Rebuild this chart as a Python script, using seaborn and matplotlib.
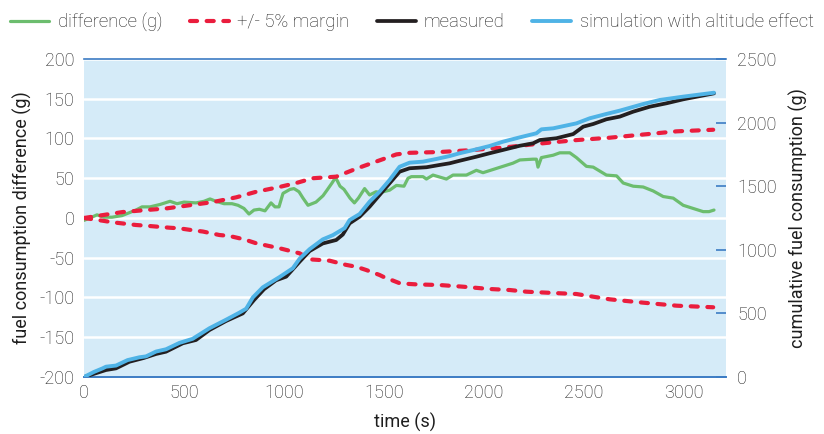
import matplotlib
matplotlib.use("Agg")
import matplotlib.pyplot as plt
import seaborn as sns
import pandas as pd

# ---------------- data ----------------
diff_t = [0, 30, 65, 100, 140, 190, 230, 260, 290, 330,
          380, 430, 465, 500, 560, 600, 630, 660, 700, 740,
          770, 800, 825, 850, 877, 905, 935, 955, 975, 995,
          1030, 1050, 1075, 1095, 1120, 1160, 1195, 1215, 1240, 1258,
          1280, 1300, 1330, 1352, 1372, 1403, 1428, 1460, 1480, 1528,
          1562, 1600, 1620, 1637, 1695, 1712, 1745, 1812, 1845, 1912,
          1962, 1995, 2045, 2095, 2145, 2179, 2245, 2262, 2270, 2287,
          2346, 2379, 2429, 2462, 2512, 2546, 2612, 2663, 2696, 2746,
          2796, 2846, 2896, 2946, 2996, 3046, 3096, 3125, 3150]
diff_g = [-3, 0, 4, 1, 1, 3, 7, 10, 14, 14,
          17, 21, 18, 20, 19, 21, 24, 21, 18, 18,
          16, 12, 5, 10, 11, 9, 19, 14, 14, 31,
          36, 37, 33, 25, 16, 20, 28, 35, 44, 51,
          40, 36, 25, 19, 25, 37, 29, 33, 32, 35,
          41, 40, 50, 52, 52, 49, 54, 49, 54, 54,
          60, 57, 61, 65, 69, 73, 74, 74, 64, 76,
          79, 82, 82, 76, 65, 64, 54, 53, 44, 40,
          39, 34, 27, 25, 16, 12, 8, 8, 10]

upper_t = [0, 77, 193, 310, 410, 527, 644, 761, 861, 977,
           1061, 1144, 1261, 1361, 1461, 1562, 1628, 1778, 1945, 2112,
           2295, 2462, 2629, 2796, 2963, 3146]
upper_g = [0, 3, 7.5, 10, 12, 16, 20, 26, 33, 39,
           44, 50, 52, 62, 71, 80, 82, 83, 85.5, 89,
           94, 98, 101, 105, 109, 111]

lower_t = [0, 93, 143, 260, 310, 427, 477, 560, 594, 677,
           727, 777, 811, 861, 977, 1078, 1128, 1178, 1228, 1311,
           1361, 1411, 1478, 1495, 1578, 1628, 1662, 1778, 1895, 2028,
           2129, 2212, 2379, 2462, 2546, 2629, 2796, 2963, 3146]
lower_g = [0, -3.4, -5.4, -8.8, -9.7, -12.2, -13, -16, -17, -21.4,
           -22.6, -25.5, -27.7, -31.8, -38, -44.4, -52, -52.8, -53.7, -59,
           -61.3, -65.4, -71.7, -73.8, -82, -83, -83.5, -84.3, -86.4, -89.3,
           -90.6, -92.7, -94.7, -95.6, -99, -102.3, -106.5, -110.3, -112.3]

meas_t = [0, 50, 110, 160, 227, 300, 360, 410, 494, 560,
          627, 710, 794, 850, 900, 960, 1011, 1078, 1128, 1194,
          1261, 1294, 1328, 1378, 1428, 1478, 1528, 1578, 1628, 1712,
          1778, 1828, 1878, 1962, 2028, 2095, 2179, 2245, 2279, 2362,
          2446, 2496, 2546, 2612, 2679, 2746, 2829, 2913, 2996, 3150]
meas_g = [0, 25, 55, 68, 120, 150, 181, 199, 265, 291,
          369, 440, 500, 605, 690, 760, 789, 906, 990, 1050,
          1077, 1120, 1208, 1260, 1339, 1431, 1523, 1614, 1641, 1649,
          1667, 1680, 1700, 1732, 1759, 1785, 1818, 1837, 1863, 1877,
          1910, 1968, 1989, 2026, 2047, 2086, 2125, 2152, 2183, 2230]

sim_t = [0, 50, 93, 110, 160, 218, 277, 310, 360, 410,
         477, 543, 627, 710, 777, 811, 844, 894, 977, 1044,
         1078, 1128, 1194, 1244, 1303, 1328, 1378, 1428, 1478, 1528,
         1578, 1628, 1695, 1762, 1828, 1878, 1962, 2028, 2095, 2179,
         2262, 2287, 2346, 2462, 2529, 2612, 2679, 2796, 2879, 2996,
         3150]
sim_g = [0, 40, 68, 81, 90, 133, 155, 162, 200, 218,
         268, 300, 383, 450, 506, 537, 625, 705, 785, 855,
         930, 1005, 1082, 1115, 1170, 1234, 1281, 1378, 1457, 1549,
         1653, 1685, 1693, 1714, 1737, 1759, 1790, 1816, 1850, 1884,
         1916, 1947, 1955, 1994, 2034, 2068, 2094, 2146, 2178, 2204,
         2235]

left_ticks = [-200, -150, -100, -50, 0, 50, 100, 150, 200]
right_ticks = [0, 500, 1000, 1500, 2000, 2500]
x_ticks = [0, 500, 1000, 1500, 2000, 2500, 3000]

labels = ["difference (g)", "+/- 5% margin", "measured",
          "simulation with altitude effect"]

# ---------------- style ----------------
sns.set_style("white")
plt.rcParams["font.family"] = ["Roboto", "DejaVu Sans"]
plt.rcParams["font.weight"] = "light"
TXT = "#1e1e1e"
AXC = "#3c7cc4"
BG = "#d5ebf8"
C_GREEN = "#6cbd6e"
C_RED = "#ea1d3d"
C_BLACK = "#231f20"
C_BLUE = "#4fb3e6"
FS = 13
LFS = 13.3

fig = plt.figure(figsize=(8.24, 4.34), dpi=100)
ax1 = fig.add_axes([84 / 824, 1 - 377 / 434, (726 - 84) / 824, (377 - 59) / 434])
ax2 = ax1.twinx()

ax1.set_facecolor(BG)
ax2.set_facecolor("none")

df_diff = pd.DataFrame({"t": diff_t, "v": diff_g})
df_up = pd.DataFrame({"t": upper_t, "v": upper_g})
df_lo = pd.DataFrame({"t": lower_t, "v": lower_g})
df_meas = pd.DataFrame({"t": meas_t, "v": meas_g})
df_sim = pd.DataFrame({"t": sim_t, "v": sim_g})

sns.lineplot(data=df_diff, x="t", y="v", ax=ax1, color=C_GREEN, lw=2.3,
             estimator=None, sort=False, label=labels[0], legend=False)
for d, lab in [(df_up, labels[1]), (df_lo, None)]:
    sns.lineplot(data=d, x="t", y="v", ax=ax1, color=C_RED, lw=3.0,
                 estimator=None, sort=False, label=lab, legend=False)
for ln in ax1.lines[1:3]:
    ln.set_dashes((1.7, 2.3))
    ln.set_dash_capstyle("round")

sns.lineplot(data=df_meas, x="t", y="v", ax=ax2, color=C_BLACK, lw=2.7,
             estimator=None, sort=False, label=labels[2], legend=False)
sns.lineplot(data=df_sim, x="t", y="v", ax=ax2, color=C_BLUE, lw=2.8,
             estimator=None, sort=False, label=labels[3], legend=False)
for ln in ax1.lines + ax2.lines:
    ln.set_solid_capstyle("round")
    ln.set_solid_joinstyle("round")

# axes ranges and ticks
ax1.set_xlim(0, 3210)
ax1.set_ylim(-200, 200)
ax2.set_ylim(0, 2500)
ax1.set_xticks(x_ticks)
ax1.set_yticks(left_ticks)
ax2.set_yticks(right_ticks)
ax1.set_xticklabels([str(v) for v in x_ticks])
ax1.set_yticklabels([str(v) for v in left_ticks])
ax2.set_yticklabels([str(v) for v in right_ticks])

ax1.yaxis.grid(True, color="white", lw=1.8)
ax1.xaxis.grid(False)
ax1.set_axisbelow(True)

for ax in (ax1, ax2):
    for s in ("left", "right", "top", "bottom"):
        ax.spines[s].set_visible(False)
ax1.spines["top"].set_visible(True)
ax1.spines["top"].set_color(AXC)
ax1.spines["top"].set_linewidth(1.2)
ax1.spines["bottom"].set_visible(True)
ax1.spines["bottom"].set_color(AXC)
ax1.spines["bottom"].set_linewidth(1.4)

ax1.tick_params(axis="x", direction="in", length=6, width=1.2, color=AXC,
                labelsize=FS, labelcolor=TXT, pad=5)
ax1.tick_params(axis="y", length=0, labelsize=FS, labelcolor=TXT, pad=7)
ax2.tick_params(axis="y", direction="in", length=7, width=1.2, color=AXC,
                labelsize=FS, labelcolor=TXT, pad=8)

ax1.set_xlabel("time (s)", fontsize=FS, color=TXT, labelpad=8)
ax1.set_ylabel("fuel consumption difference (g)", fontsize=FS, color=TXT,
               labelpad=5)
ax2.set_ylabel("cumulative fuel consumption (g)", fontsize=FS, color=TXT,
               labelpad=9)

h1, l1 = ax1.get_legend_handles_labels()
h2, l2 = ax2.get_legend_handles_labels()
fig.legend(h1 + h2, l1 + l2, loc="center", bbox_to_anchor=(0.5, 1 - 22 / 434),
           ncol=4, frameon=False, fontsize=LFS, handlelength=2.1,
           handletextpad=0.45, columnspacing=1.5, labelcolor=TXT,
           borderpad=0.1, borderaxespad=0.1)

fig.savefig("out.png", dpi=100)
